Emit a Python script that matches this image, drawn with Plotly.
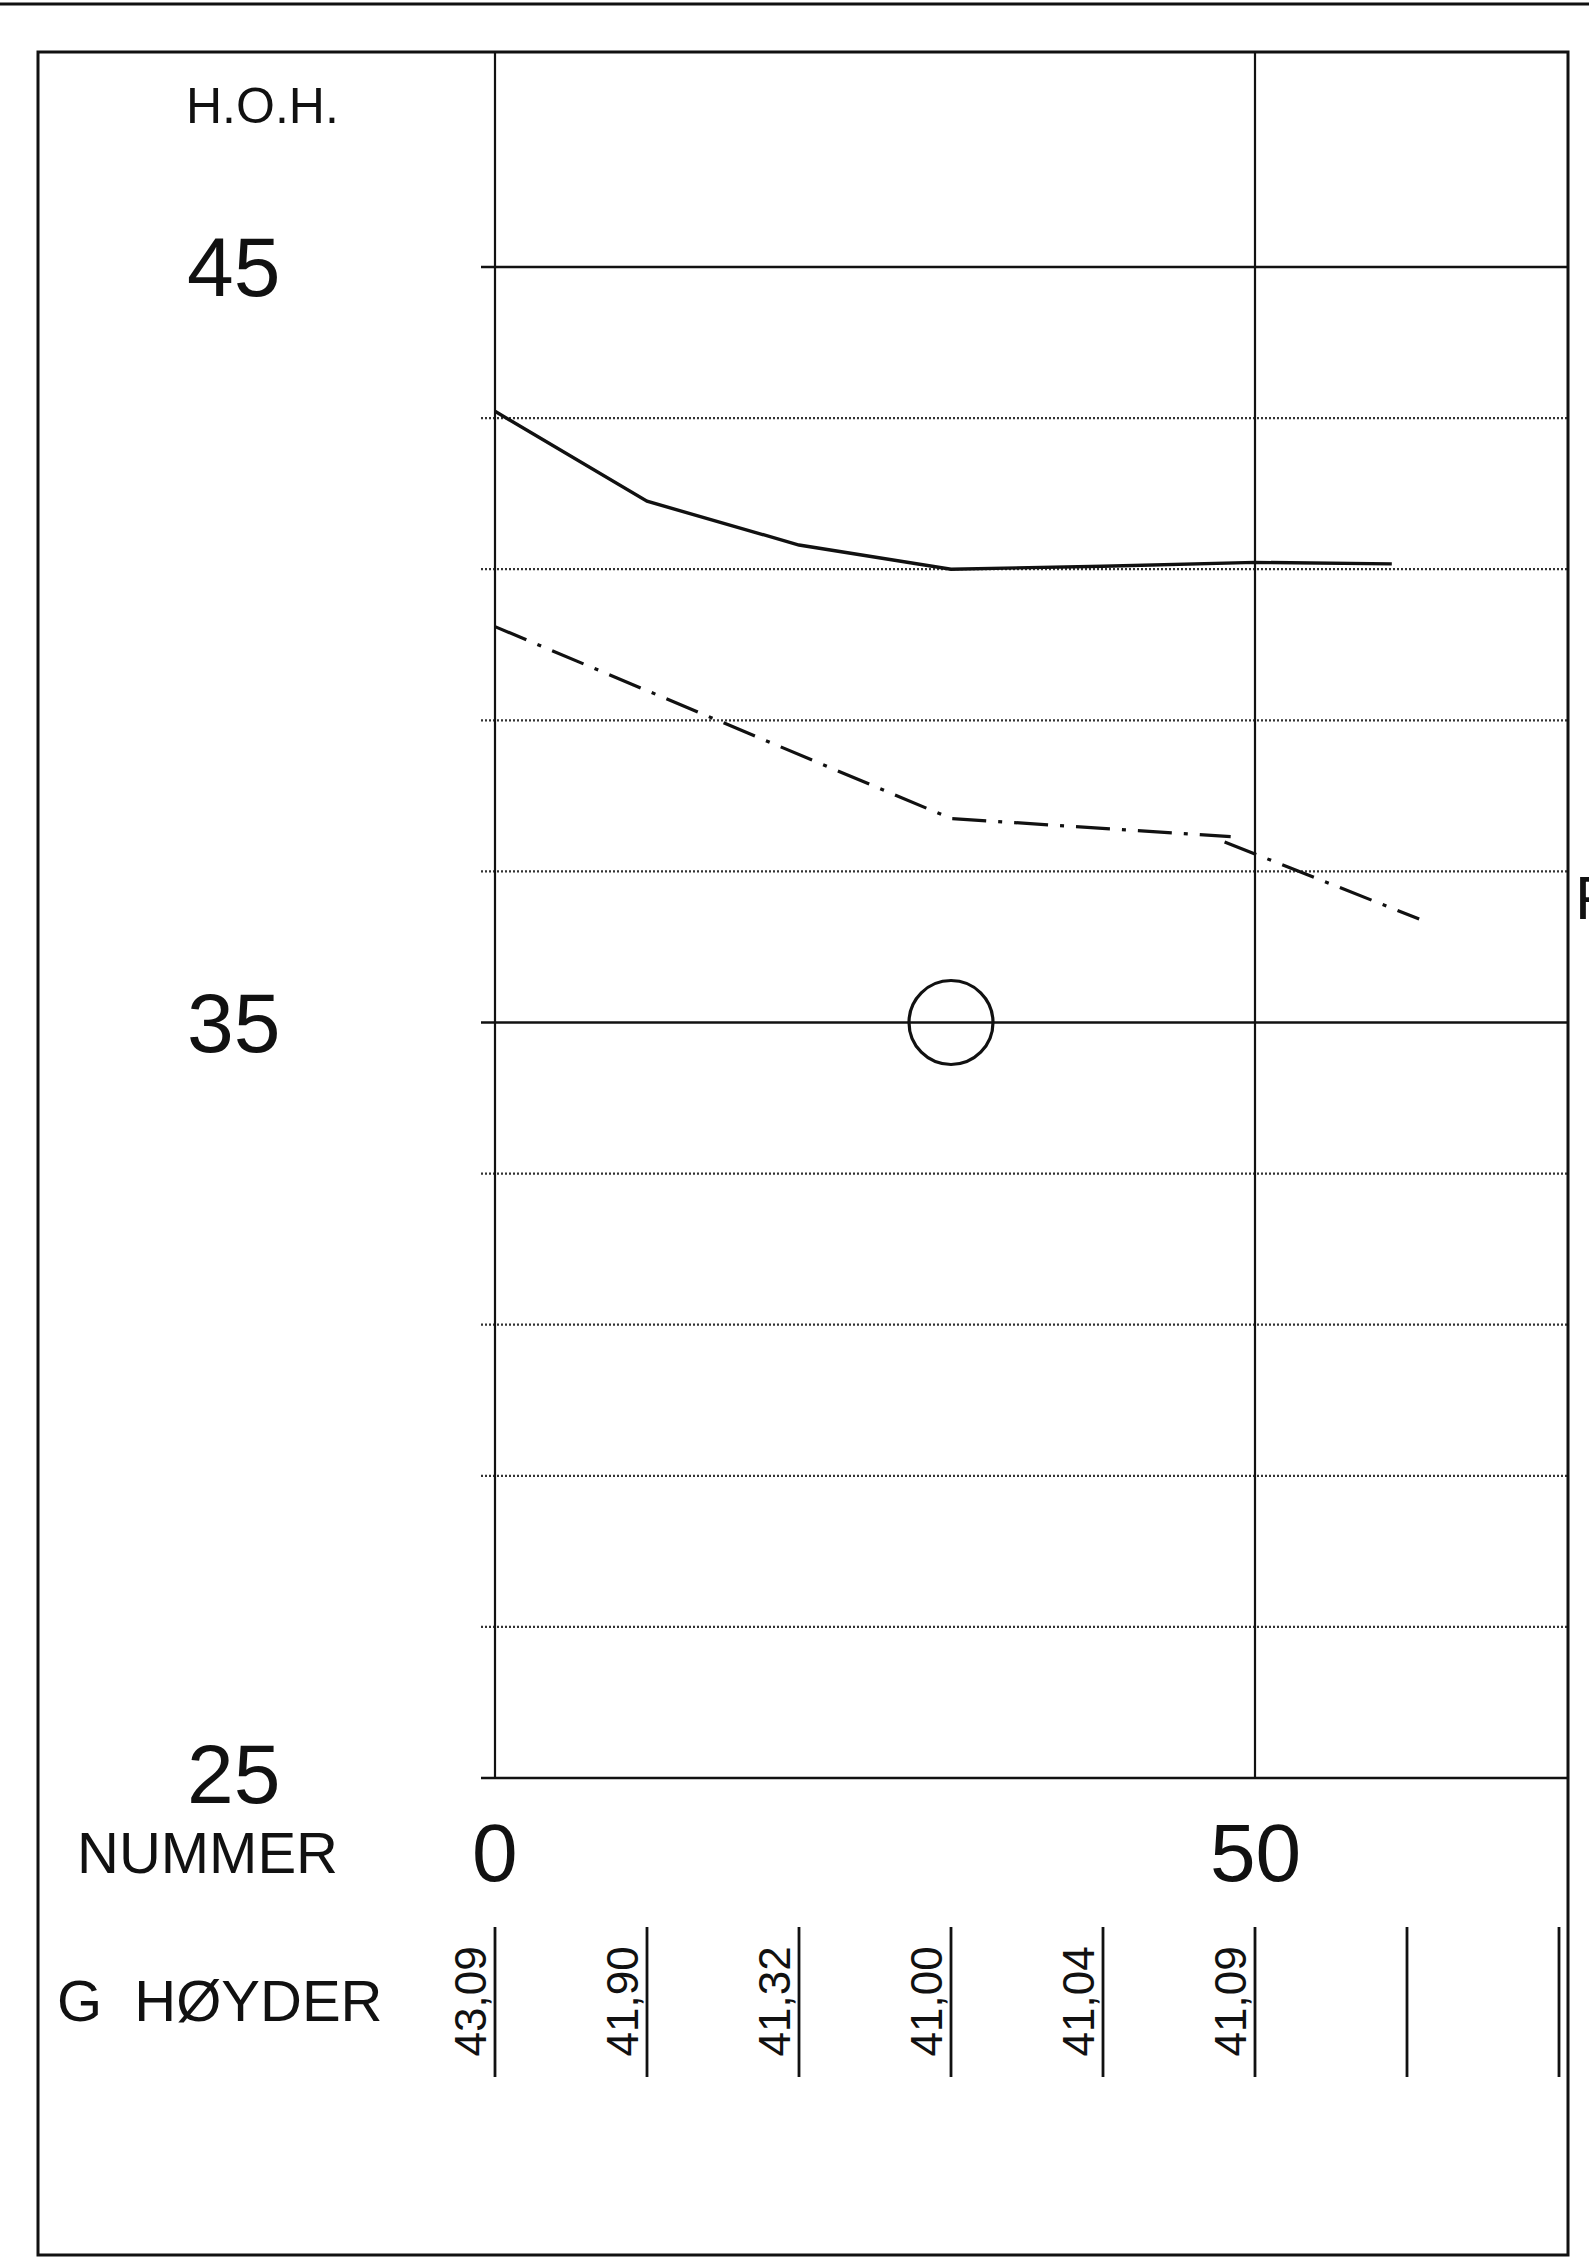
import plotly.graph_objects as go

# ---------------- data ----------------
stations = [0, 10, 20, 30, 40, 50, 60, 70]
ground_labels = ["43,09", "41,90", "41,32", "41,00", "41,04", "41,09", "", ""]

terrain_x = [0, 10, 20, 30, 40, 50, 59]
terrain_y = [43.09, 41.90, 41.32, 41.00, 41.04, 41.09, 41.07]

rock_a_x = [0, 30, 48.4]
rock_a_y = [40.24, 37.70, 37.46]
rock_b_x = [48.0, 60.8]
rock_b_y = [37.39, 36.37]

circle_x = [30]
circle_y = [35]

major_levels = [25, 35, 45]
major_labels = ["25", "35", "45"]
minor_levels = [27, 29, 31, 33, 37, 39, 41, 43]
x_label_vals = [0, 50]
x_labels = ["0", "50"]
vertical_grid = [0, 50]

# ---------------- geometry (page pixels) ----------------
W, H = 1589, 2259
X0_PX, X_PER = 495.0, 15.2        # pixel of x=0, pixels per unit
Y45_PX, Y_PER = 267.0, 75.55      # pixel of y=45, pixels per unit

x_range = [-X0_PX / X_PER, (W - X0_PX) / X_PER]
y_range = [45 - (H - Y45_PX) / Y_PER, 45 + Y45_PX / Y_PER]


def xd(px):
    return (px - X0_PX) / X_PER


def yd(py):
    return 45 - (py - Y45_PX) / Y_PER


X_LEFT_TICK = xd(481)
X_RIGHT = xd(1567)
Y_TOP = yd(52)
Y_BOTTOM = 25

FONT = "Liberation Sans, Arial, sans-serif"
INK = "#111111"

fig = go.Figure()


def seg_trace(xs, ys, width, dash="solid", color=INK):
    fig.add_trace(go.Scatter(x=xs, y=ys, mode="lines",
                             line=dict(color=color, width=width, dash=dash),
                             hoverinfo="skip", showlegend=False))


# minor (dotted) horizontal grid lines
gx, gy = [], []
for lv in minor_levels:
    gx += [X_LEFT_TICK, X_RIGHT, None]
    gy += [lv, lv, None]
seg_trace(gx, gy, 2.2, dash="2px,2px", color="#333333")

# major (solid) horizontal lines
gx, gy = [], []
for lv in major_levels:
    gx += [X_LEFT_TICK, X_RIGHT, None]
    gy += [lv, lv, None]
seg_trace(gx, gy, 2.6)

# vertical lines at 0 and 50
vx, vy = [], []
for v in vertical_grid:
    vx += [v, v, None]
    vy += [Y_BOTTOM, Y_TOP, None]
seg_trace(vx, vy, 2.2)

# station lines in the height table
sx, sy = [], []
for s in stations:
    sx += [s, s, None]
    sy += [yd(1927), yd(2077), None]
seg_trace(sx, sy, 2.8)

# terrain (solid)
seg_trace(terrain_x, terrain_y, 3.4)

# rock / dash-dot line
seg_trace(rock_a_x, rock_a_y, 3.2, dash="34px,12px,4px,12px")
seg_trace(rock_b_x, rock_b_y, 3.2, dash="34px,12px,4px,12px")

# circle
fig.add_trace(go.Scatter(x=circle_x, y=circle_y, mode="markers",
                         marker=dict(symbol="circle-open", size=84, color=INK,
                                     line=dict(color=INK, width=3.2)),
                         hoverinfo="skip", showlegend=False))

annotations = []
# y labels
for lv, lab in zip(major_levels, major_labels):
    annotations.append(dict(x=xd(282), y=lv, text=lab, xanchor="right", yanchor="middle",
                            yshift=4 if lv == 25 else 0,
                            showarrow=False, font=dict(family=FONT, size=84, color=INK)))
# x labels
for v, lab in zip(x_label_vals, x_labels):
    annotations.append(dict(x=v, y=yd(1852), text=lab, xanchor="center", yanchor="middle",
                            showarrow=False, font=dict(family=FONT, size=82, color=INK)))
# ground heights (rotated)
for s, lab in zip(stations, ground_labels):
    if lab:
        annotations.append(dict(x=s, y=yd(2002), text=lab, textangle=-90,
                                xanchor="right", yanchor="middle", xshift=1,
                                showarrow=False, font=dict(family=FONT, size=44, color=INK)))
# row captions
annotations.append(dict(x=xd(184), y=yd(106), text="H.O.H.", xanchor="left", yanchor="middle",
                        showarrow=False, font=dict(family=FONT, size=50, color=INK)))
annotations.append(dict(x=xd(75), y=yd(1852), text="NUMMER", xanchor="left", yanchor="middle",
                        showarrow=False, font=dict(family=FONT, size=58, color=INK)))
annotations.append(dict(x=xd(55), y=yd(2000), text="G\u00a0\u00a0HØYDER", xanchor="left",
                        yanchor="middle", showarrow=False,
                        font=dict(family=FONT, size=58, color=INK)))
annotations.append(dict(x=xd(1573), y=yd(897), text="F", xanchor="left", yanchor="middle",
                        showarrow=False, font=dict(family=FONT, size=62, color=INK)))


# page frame (paper coords from pixels)
def xp(px):
    return px / W


def yp(py):
    return 1 - py / H


shapes = [
    dict(type="line", xref="paper", yref="paper", x0=0, x1=1, y0=yp(4), y1=yp(4),
         line=dict(color=INK, width=3)),
    dict(type="rect", xref="paper", yref="paper", x0=xp(38), x1=xp(1568), y0=yp(2255), y1=yp(52),
         line=dict(color=INK, width=3)),
]

fig.update_layout(
    width=W, height=H, autosize=False,
    margin=dict(l=0, r=0, t=0, b=0, pad=0),
    paper_bgcolor="white", plot_bgcolor="white",
    xaxis=dict(range=x_range, visible=False, fixedrange=True),
    yaxis=dict(range=y_range, visible=False, fixedrange=True),
    annotations=annotations, shapes=shapes,
    showlegend=False,
)

fig.write_html("out.html", config={"displayModeBar": False},
               post_script="document.body.style.margin='0';")
